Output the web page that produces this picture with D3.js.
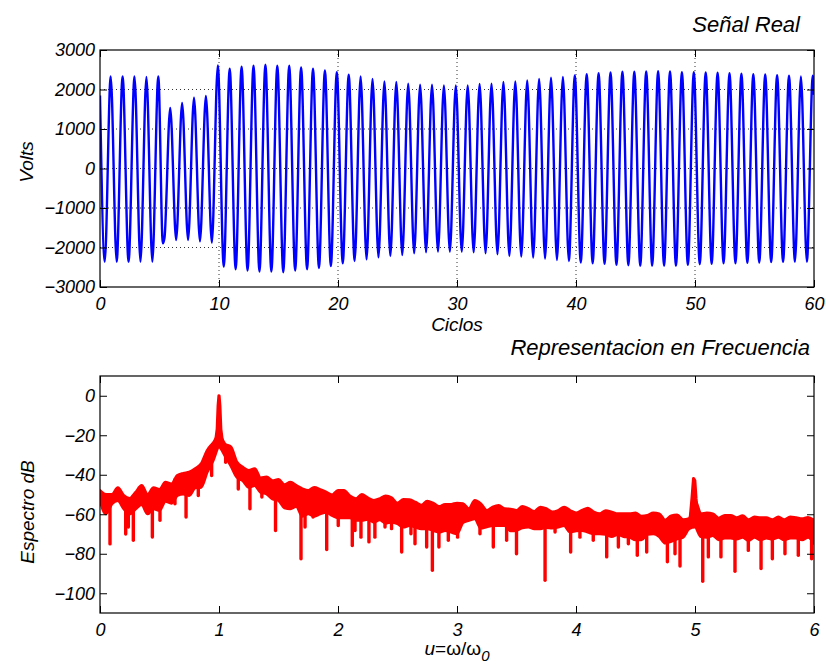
<!DOCTYPE html>
<html>
<head>
<meta charset="utf-8">
<script src="https://cdn.jsdelivr.net/npm/d3@7"></script>
<style>
  body { margin:0; background:#fff; }
  svg text { font-family:"Liberation Sans", Arial, sans-serif; font-style:italic; fill:#000; }
</style>
</head>
<body>
<div id="fig"></div>
<script>
// ---- Señal Real : one maximum and one minimum read per cycle ----
var cycles = d3.range(0, 60)
var peakAt = 0.9, troughAt = 0.4   // where in each cycle the max / min sit
var peakV = [2330,2330,2330,2320,2330, 1530,1660,1790,1835, 2610,
             2525,2575,2600,2625,2600,2600,2560,2525,2480,2440,
             2375,2330,2265,2205,2190,2145,2120,2120,2105,2105,
             2105,2140,2145,2190,2205,2230,2265,2300,2315,2355,
             2390,2410,2430,2450,2450,2460,2465,2460,2440,2440,
             2430,2425,2415,2400,2390,2380,2365,2350,2330,2350]
var troughV = [-2360,-2360,-2360,-2360,-2360, null,-1810,-1810,-1845,-1875,
               -2485,-2550,-2585,-2610,-2610,-2625,-2585,-2550,-2520,-2470,
               -2400,-2340,-2300,-2250,-2215,-2190,-2145,-2120,-2105,-2105,
               -2105,-2120,-2145,-2170,-2215,-2230,-2255,-2280,-2315,-2340,
               -2380,-2400,-2415,-2440,-2450,-2460,-2460,-2460,-2460,-2440,
               -2425,-2415,-2400,-2400,-2390,-2380,-2370,-2365,-2360,-2360]
var notch = [[5.28,-1895],[5.42,-1755]]   // the odd double minimum of cycle 5
var startV = 1850, endV = 1870
var voltTicks = [-3000,-2000,-1000,0,1000,2000,3000]
var cicloTicks = [0,10,20,30,40,50,60]

// ---- Representacion en Frecuencia : band top / bottom every 0.05 ----
var uStep = 0.05
var specTop = [-48,-50,-50,-46.6,-50.6,-52,-48.9,-45.5,-50,-46.6,
  -47.5,-43.8,-44.7,-40.4,-39.3,-38.7,-37,-34.5,-27.8,-24,
  -20,-24.4,-26,-33.6,-36.2,-37.9,-37,-41.6,-41.2,-43,
  -42.4,-45,-43.8,-45.5,-47.1,-48,-46.5,-47.5,-48.8,-50.2,
  -48,-48,-50.8,-52.2,-50,-51.7,-53,-52.2,-50.7,-51.7,
  -54.4,-52.5,-52.7,-53.9,-55.4,-53.4,-54.4,-56.1,-55,-55,
  -54.4,-54.7,-57.2,-53,-54.7,-58.1,-56.4,-55.6,-57.2,-57.4,
  -58.1,-56.1,-57.2,-58.6,-56.4,-57.2,-58.9,-58.2,-56.4,-58.1,
  -59.4,-58.1,-56.9,-58.9,-59.8,-58.2,-58.9,-59.8,-59.8,-59.8,
  -59.4,-61,-60.6,-59.4,-59.8,-63.1,-60.8,-60.4,-62.8,-62.3,
  -53,-59.8,-59.4,-59.8,-62,-60.6,-60.6,-61.8,-60.8,-62.8,
  -61.4,-61.8,-61.8,-62.8,-61.4,-62.8,-61.4,-61.8,-62.3,-61.6,
  -63.1]
var specBot = [-53,-59.8,-54.7,-53,-57.2,-59.8,-57.2,-55,-59.8,-57.2,
  -58,-53.4,-54.4,-50.5,-49.7,-50.5,-46.6,-46.3,-38.7,-32.8,
  -26,-30.3,-35.4,-41.2,-43,-46.3,-45.5,-48.9,-49.7,-52.2,
  -53,-56.7,-57.2,-56,-61,-59.8,-61,-59.8,-59,-60.6,
  -61.8,-61.8,-61.8,-63.1,-63.1,-62.5,-64,-62.8,-64.5,-64,
  -64.8,-66.5,-65.7,-66.5,-67.3,-67.3,-68.2,-69,-68.2,-69,
  -69.9,-64.2,-63.1,-62.3,-67,-66.3,-65.7,-65.7,-65.7,-68.4,
  -68.2,-66.8,-66.5,-67.3,-67.3,-66.7,-67,-66.5,-65.7,-69,
  -68.4,-68.2,-69,-69.9,-69.9,-70.2,-71.3,-70.2,-71.3,-71.6,
  -72.9,-72.9,-70.2,-69.9,-71.3,-74.6,-73.7,-72.5,-71.6,-67.3,
  -66.5,-71.3,-71.6,-70.7,-72.9,-72,-72,-72.5,-71.6,-73.2,
  -71.6,-72.9,-72,-72.6,-71.6,-72.9,-72,-72,-72.9,-71.6,
  -74.6]
var dips = [[0.084,-75],[0.216,-70],[0.238,-66.5],[0.28,-73.2],[0.44,-71.5],[0.504,-63],
  [0.63,-54.7],[0.723,-61.4],[0.826,-50.5],[0.938,-40.4],[1.056,-33.7],[1.162,-47.2],
  [1.26,-57.2],[1.36,-51.3],[1.475,-68.2],[1.689,-82.5],[1.723,-66.5],[1.79,-61.4],
  [1.905,-77.9],[2.002,-65.7],[2.12,-75.8],[2.143,-68.2],[2.193,-71.6],[2.26,-74],
  [2.31,-71.6],[2.395,-66.5],[2.45,-67.3],[2.535,-79.1],[2.613,-69.9],[2.647,-74.9],
  [2.745,-76.6],[2.793,-88.4],[2.848,-76.6],[2.927,-73.2],[3.005,-71.6],[3.193,-69.9],
  [3.305,-76.6],[3.417,-73.2],[3.5,-80],[3.74,-93.4],[3.824,-69],[3.955,-79.1],
  [4.033,-71.6],[4.145,-73.2],[4.258,-81.6],[4.356,-76.6],[4.44,-74.9],[4.515,-80.8],
  [4.594,-79.1],[4.768,-84.1],[4.832,-80],[4.874,-86.2],[5.065,-93.9],[5.112,-81.6],
  [5.218,-81.6],[5.336,-88.9],[5.448,-78.3],[5.555,-87.5],[5.65,-82.5],[5.756,-80],
  [5.868,-80.8],[5.98,-82.5]]
var peakOne = [[0.97,-24],[0.985,-17],[0.993,-5],[1.0,0],[1.007,-5],[1.015,-17],[1.03,-24]]
var peakFive = [[4.96,-62],[4.975,-52],[4.988,-42],[4.998,-43],[5.008,-52],[5.02,-60]]
var dbTicks = [-100,-80,-60,-40,-20,0]
var uTicks = [0,1,2,3,4,5,6]

var W = 714, H = 237
var svg = d3.select('#fig').append('svg')
  .attr('width', 826).attr('height', 666)

svg.append('defs').append('clipPath').attr('id','box_clip')
  .append('rect').attr('x',0).attr('y',0).attr('width',W).attr('height',H)

//matlab style box: inward ticks on all four sides, labels only bottom/left
function frame(g, x, y, xt, yt){
  var tk = 7, fmt = d3.format('d')
  g.append('g').attr('transform','translate(0,'+H+')')
    .call(d3.axisBottom(x).tickValues(xt).tickFormat(fmt)
      .tickSizeInner(-tk).tickSizeOuter(0).tickPadding(10))
  g.append('g')
    .call(d3.axisLeft(y).tickValues(yt).tickFormat(fmt)
      .tickSizeInner(-tk).tickSizeOuter(0).tickPadding(5))
  g.append('g').call(d3.axisTop(x).tickValues(xt).tickSizeInner(-tk).tickSizeOuter(0).tickFormat(''))
  g.append('g').attr('transform','translate('+W+',0)')
    .call(d3.axisRight(y).tickValues(yt).tickSizeInner(-tk).tickSizeOuter(0).tickFormat(''))
  g.selectAll('.domain').remove()
  g.selectAll('.tick line').attr('stroke','#000').attr('stroke-width',1)
  g.selectAll('.tick text').attr('font-size',18).attr('font-family',null).attr('fill','#000')
  g.append('rect').attr('width',W).attr('height',H)
    .attr('fill','none').attr('stroke','#000').attr('stroke-width',1.2)
}

// ---------------- upper plot : Señal Real ----------------
var sigG = svg.append('g').attr('transform','translate(100,50)')
var x1 = d3.scaleLinear().domain([0,60]).range([0,W])
var y1 = d3.scaleLinear().domain([-3000,3000]).range([H,0])

var grid = sigG.append('g').attr('stroke','#333').attr('stroke-width',1)
  .attr('stroke-dasharray','1,3')
grid.selectAll('.gx').data(cicloTicks.slice(1,-1)).enter().append('line')
  .attr('x1',x1).attr('x2',x1).attr('y1',0).attr('y2',H)
grid.selectAll('.gy').data(voltTicks.slice(1,-1)).enter().append('line')
  .attr('y1',y1).attr('y2',y1).attr('x1',0).attr('x2',W)

var wave = [[0,startV]]
cycles.forEach(function(k){
  if(troughV[k] === null) notch.forEach(function(p){ wave.push(p) })
  else wave.push([k + troughAt, troughV[k]])
  wave.push([k + peakAt, peakV[k]])
})
wave.push([60,endV])

sigG.append('path').datum(wave)
  .attr('clip-path','url(#box_clip)')
  .attr('fill','none').attr('stroke','#0000ff').attr('stroke-width',2.4)
  .attr('d', d3.line().x(function(d){ return x1(d[0]) }).y(function(d){ return y1(d[1]) })
    .curve(d3.curveMonotoneX))

frame(sigG, x1, y1, cicloTicks, voltTicks)

svg.append('text').attr('x',800).attr('y',32).attr('text-anchor','end')
  .attr('font-size',22).text('Señal Real')
svg.append('text').attr('x',457).attr('y',331).attr('text-anchor','middle')
  .attr('font-size',19).text('Ciclos')
svg.append('text').attr('transform','translate(33,162) rotate(-90)')
  .attr('text-anchor','middle').attr('font-size',19).text('Volts')

// ---------------- lower plot : espectro ----------------
var specG = svg.append('g').attr('transform','translate(100,376)')
var x2 = d3.scaleLinear().domain([0,6]).range([0,W])
var y2 = d3.scaleLinear().domain([-110,10]).range([H,0])

var band = specTop.map(function(v,i){ return {u:i*uStep, hi:v, lo:specBot[i]} })
var red = specG.append('g').attr('clip-path','url(#box_clip)')

red.append('path').datum(band)
  .attr('fill','#ff0000').attr('stroke','#ff0000').attr('stroke-width',3)
  .attr('stroke-linejoin','round')
  .attr('d', d3.area().x(function(d){ return x2(d.u) })
    .y0(function(d){ return y2(d.lo) }).y1(function(d){ return y2(d.hi) })
    .curve(d3.curveMonotoneX))

var seg = d3.line().x(function(d){ return x2(d[0]) }).y(function(d){ return y2(d[1]) })
red.selectAll('.dip').data(dips).enter().append('path')
  .attr('fill','none').attr('stroke','#ff0000').attr('stroke-width',3.4)
  .attr('stroke-linecap','round')
  .attr('d', function(d){
    var i = Math.round(d[0]/uStep)
    return seg([[d[0], specTop[i] - 2],[d[0], d[1]]])
  })
red.selectAll('.spike').data([peakOne, peakFive]).enter().append('path')
  .attr('fill','#ff0000').attr('stroke','#ff0000').attr('stroke-width',3.2)
  .attr('stroke-linejoin','round').attr('d', seg)

frame(specG, x2, y2, uTicks, dbTicks)

svg.append('text').attr('x',810).attr('y',355).attr('text-anchor','end')
  .attr('font-size',22).text('Representacion en Frecuencia')
svg.append('text').attr('transform','translate(33.5,512) rotate(-90)')
  .attr('text-anchor','middle').attr('font-size',19).text('Espectro dB')

var ul = svg.append('text').attr('x',457).attr('y',655).attr('text-anchor','middle')
  .attr('font-size',19)
ul.append('tspan').text('u')
ul.append('tspan').style('font-style','normal').text('=ω/ω')
ul.append('tspan').attr('dy',6).attr('font-size',15).text('0')
</script>
</body>
</html>
